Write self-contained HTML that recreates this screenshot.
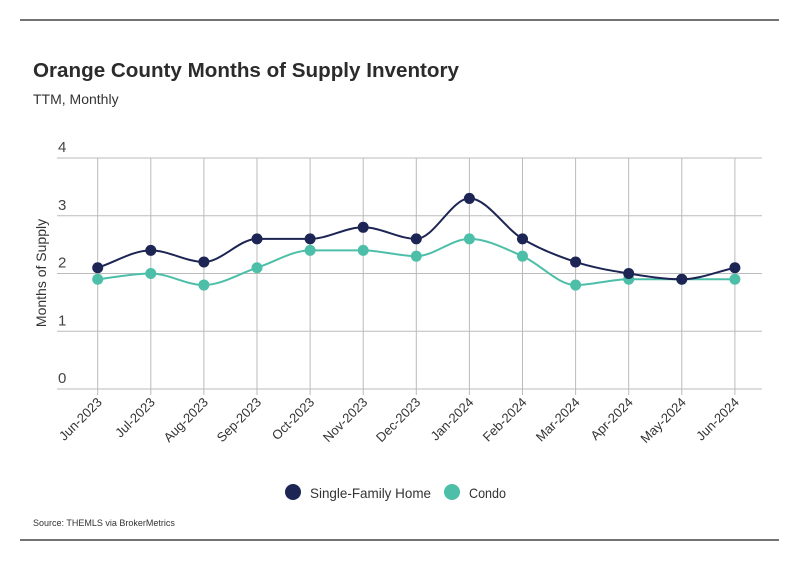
<!DOCTYPE html>
<html><head><meta charset="utf-8">
<style>
body{margin:0;background:#fff;width:799px;height:575px;overflow:hidden;font-family:"Liberation Sans",sans-serif;}
svg text{font-family:"Liberation Sans",sans-serif;}
</style></head>
<body>
<svg id="chart" width="799" height="575">
<line x1="20" y1="20" x2="779" y2="20" stroke="#222" stroke-width="1.2"/>
<text x="33" y="77" font-size="20.5" font-weight="bold" fill="#2b2b2b" textLength="426" lengthAdjust="spacingAndGlyphs">Orange County Months of Supply Inventory</text>
<text x="33" y="104" font-size="14" fill="#333">TTM, Monthly</text>
<text transform="translate(46,273) rotate(-90)" text-anchor="middle" font-size="14" fill="#333">Months of Supply</text>
<g id="grid"></g><g id="series"></g><g id="xlabels"></g>
<g>
<g><circle cx="293" cy="492" r="8" fill="#1c2553"/><text x="310" y="498" font-size="14" fill="#333" textLength="121" lengthAdjust="spacingAndGlyphs">Single-Family Home</text></g>
<g><circle cx="452" cy="492" r="8" fill="#4dbfa8"/><text x="469" y="498" font-size="14" fill="#333" textLength="37" lengthAdjust="spacingAndGlyphs">Condo</text></g>
</g>
<text x="33" y="526" font-size="9" fill="#333">Source:  THEMLS via BrokerMetrics</text>
<line x1="20" y1="540" x2="779" y2="540" stroke="#222" stroke-width="1.2"/>
</svg>
<script>
const categories=["Jun-2023","Jul-2023","Aug-2023","Sep-2023","Oct-2023","Nov-2023","Dec-2023","Jan-2024","Feb-2024","Mar-2024","Apr-2024","May-2024","Jun-2024"];
const sfhValues=[2.1,2.4,2.2,2.6,2.6,2.8,2.6,3.3,2.6,2.2,2.0,1.9,2.1];
const condoValues=[1.9,2.0,1.8,2.1,2.4,2.4,2.3,2.6,2.3,1.8,1.9,1.9,1.9];
const yTicks=[0,1,2,3,4];
const NS="http://www.w3.org/2000/svg";
const X0=97.7,STEP=53.1,Y0=389,UNIT=57.75;
const xs=i=>X0+i*STEP, ys=v=>Y0-v*UNIT;
function mk(t,a,p){const e=document.createElementNS(NS,t);for(const k in a)e.setAttribute(k,a[k]);p.appendChild(e);return e;}
const grid=document.getElementById('grid');
yTicks.forEach(t=>{
  const l=mk('line',{x1:57,x2:762,y1:ys(t),y2:ys(t),stroke:'#bbb','stroke-width':1},grid);
  
  
  const tx=mk('text',{x:58,y:ys(t)-6,'font-size':15,fill:'#444'},grid);tx.textContent=t;
  
  
});
const xl=document.getElementById('xlabels');
categories.forEach((c,i)=>{
  const l=mk('line',{x1:xs(i),x2:xs(i),y1:ys(4),y2:Y0+6,stroke:'#bbb','stroke-width':1},grid);
  
  
  const t=mk('text',{x:0,y:0,'font-size':13,fill:'#333','text-anchor':'end',transform:`translate(${xs(i)+5},${Y0+14}) rotate(-45)`},xl);
  t.textContent=c;
  
  
});
function monotone(px,py){
  const n=px.length,d=[],m=[];
  for(let i=0;i<n-1;i++)d.push((py[i+1]-py[i])/(px[i+1]-px[i]));
  m[0]=d[0];m[n-1]=d[n-2];
  for(let i=1;i<n-1;i++){m[i]=(d[i-1]*d[i]<=0)?0:(d[i-1]+d[i])/2;}
  for(let i=0;i<n-1;i++){if(d[i]===0){m[i]=0;m[i+1]=0;continue;}const a=m[i]/d[i],b=m[i+1]/d[i],s=a*a+b*b;if(s>9){const t=3/Math.sqrt(s);m[i]=t*a*d[i];m[i+1]=t*b*d[i];}}
  let p=`M${px[0]},${py[0]}`;
  for(let i=0;i<n-1;i++){const h=(px[i+1]-px[i])/3;p+=` C${px[i]+h},${py[i]+m[i]*h} ${px[i+1]-h},${py[i+1]-m[i+1]*h} ${px[i+1]},${py[i+1]}`;}
  return p;
}
const sg=document.getElementById('series');
function draw(vals,color,name){
  const px=vals.map((v,i)=>xs(i)),py=vals.map(ys);
  const p=mk('path',{d:monotone(px,py),fill:'none',stroke:color,'stroke-width':2},sg);
  
  
  vals.forEach((v,i)=>{
    const c=mk('circle',{cx:xs(i),cy:ys(v),r:5.5,fill:color},sg);
    
    
  });
}
draw(condoValues,'#4dbfa8','condo');
draw(sfhValues,'#1c2553','single-family');
</script>
</body></html>
